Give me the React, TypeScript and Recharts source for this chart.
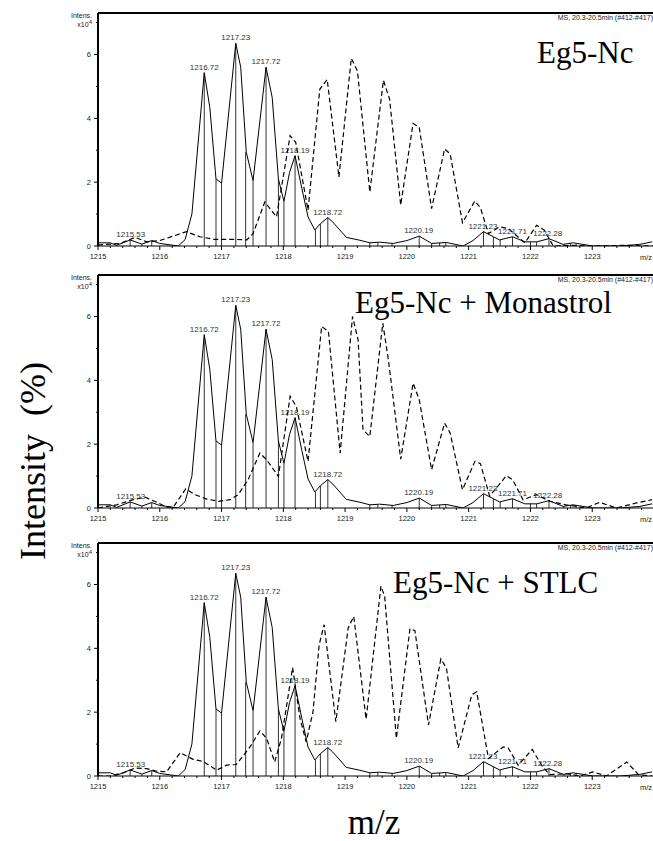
import { ComposedChart, ErrorBar, Line, ReferenceLine, Scatter, XAxis, YAxis } from 'recharts'

// the plot frame runs to the window's right edge; drop the body margin and keep scrollbars away
document.documentElement.style.overflow = 'hidden'
document.body.style.margin = '0'

// m/z, intensity (x10^4)
const solidTrace: [number, number][] = [
  [1215.0, 0.1], [1215.2, 0.1], [1215.3, 0.02], [1215.52, 0.19], [1215.71, 0.06],
  [1215.87, 0.17], [1216.0, 0.08], [1216.3, 0.0], [1216.41, 0.2], [1216.52, 1.0],
  [1216.72, 5.43], [1216.81, 4.34], [1216.91, 2.1], [1217.0, 1.97], [1217.23, 6.35],
  [1217.31, 5.6], [1217.4, 2.94], [1217.51, 2.05], [1217.72, 5.6], [1217.82, 4.65],
  [1217.92, 2.1], [1218.01, 1.4], [1218.1, 2.3], [1218.19, 2.83], [1218.3, 1.8],
  [1218.4, 0.91], [1218.51, 0.5], [1218.6, 0.7], [1218.72, 0.89], [1218.8, 0.75],
  [1219.02, 0.27], [1219.24, 0.18], [1219.4, 0.1], [1219.56, 0.12], [1219.78, 0.08],
  [1220.0, 0.17], [1220.2, 0.31], [1220.4, 0.08], [1220.64, 0.11], [1220.91, 0.0],
  [1221.07, 0.17], [1221.24, 0.45], [1221.4, 0.29], [1221.5, 0.19], [1221.71, 0.29],
  [1221.91, 0.13], [1222.1, 0.13], [1222.3, 0.23], [1222.53, 0.05], [1222.69, 0.1],
  [1223.01, 0.0], [1223.45, 0.0], [1223.77, 0.05], [1223.97, 0.13],
]

const dashedEg5: [number, number][] = [
  [1215.0, 0.03], [1215.36, 0.08], [1215.6, 0.27], [1215.79, 0.13], [1216.0, 0.17],
  [1216.2, 0.3], [1216.43, 0.45], [1216.65, 0.29], [1216.87, 0.21], [1217.19, 0.21],
  [1217.41, 0.19], [1217.51, 0.39], [1217.7, 1.38], [1217.89, 0.91], [1218.11, 3.46],
  [1218.2, 3.25], [1218.4, 1.12], [1218.59, 4.91], [1218.71, 5.22], [1218.9, 2.16],
  [1219.1, 5.88], [1219.2, 5.48], [1219.4, 1.69], [1219.62, 5.19], [1219.72, 4.6],
  [1219.9, 1.28], [1220.1, 3.84], [1220.2, 3.72], [1220.4, 1.17], [1220.61, 3.04],
  [1220.7, 2.89], [1220.9, 0.73], [1221.1, 1.41], [1221.19, 1.2], [1221.32, 0.39],
  [1221.5, 0.6], [1221.64, 0.55], [1221.91, 0.1], [1222.1, 0.65], [1222.22, 0.5],
  [1222.37, 0.0], [1222.69, 0.02], [1223.0, 0.0], [1223.5, 0.02], [1224.0, 0.0],
]

const dashedMonastrol: [number, number][] = [
  [1215.0, 0.0], [1215.3, 0.1], [1215.57, 0.26], [1215.76, 0.34], [1215.95, 0.18],
  [1216.11, 0.03], [1216.22, 0.03], [1216.42, 0.6], [1216.57, 0.42], [1216.76, 0.28],
  [1216.95, 0.21], [1217.14, 0.26], [1217.27, 0.42], [1217.43, 0.89], [1217.62, 1.72],
  [1217.73, 1.51], [1217.92, 0.99], [1218.11, 3.5], [1218.21, 3.18], [1218.4, 1.46],
  [1218.62, 5.69], [1218.73, 5.53], [1218.92, 1.72], [1219.12, 6.0], [1219.21, 5.27],
  [1219.29, 2.45], [1219.4, 2.24], [1219.61, 5.79], [1219.7, 4.65], [1219.9, 1.53],
  [1220.1, 3.91], [1220.2, 3.39], [1220.4, 1.2], [1220.61, 2.66], [1220.7, 2.35],
  [1220.9, 0.57], [1221.1, 1.46], [1221.19, 1.39], [1221.34, 0.37], [1221.61, 1.01],
  [1221.71, 0.89], [1221.88, 0.26], [1222.1, 0.42], [1222.31, 0.21], [1222.58, 0.1],
  [1222.9, 0.0], [1223.12, 0.18], [1223.39, 0.0], [1223.72, 0.16], [1223.97, 0.26],
]

const dashedStlc: [number, number][] = [
  [1215.0, 0.0], [1215.2, 0.0], [1215.41, 0.1], [1215.6, 0.25], [1215.79, 0.23],
  [1215.95, 0.15], [1216.11, 0.13], [1216.33, 0.73], [1216.54, 0.52], [1216.7, 0.46],
  [1216.92, 0.18], [1217.08, 0.34], [1217.24, 0.36], [1217.46, 0.91], [1217.62, 1.41],
  [1217.73, 1.18], [1217.86, 0.44], [1217.97, 1.18], [1218.15, 3.4], [1218.27, 1.8],
  [1218.37, 1.07], [1218.48, 2.01], [1218.58, 4.11], [1218.66, 4.74], [1218.85, 1.7],
  [1219.05, 4.64], [1219.14, 5.0], [1219.34, 1.78], [1219.58, 5.95], [1219.64, 5.63],
  [1219.83, 1.18], [1220.05, 4.62], [1220.13, 4.55], [1220.35, 1.6], [1220.55, 3.67],
  [1220.64, 3.38], [1220.83, 0.88], [1221.05, 2.54], [1221.13, 2.64], [1221.32, 0.55],
  [1221.56, 0.91], [1221.64, 0.88], [1221.8, 0.34], [1222.03, 0.83], [1222.18, 0.34],
  [1222.31, 0.04], [1222.58, 0.07], [1222.8, 0.0], [1223.01, 0.13], [1223.23, 0.0],
  [1223.56, 0.44], [1223.75, 0.04], [1223.97, 0.0],
]

// centroid sticks under the solid profile
const sticks: [number, number][] = [
  [1215.52, 0.19], [1215.71, 0.06], [1215.87, 0.17], [1216.72, 5.43], [1216.91, 2.1],
  [1217.0, 1.97], [1217.23, 6.35], [1217.39, 2.94], [1217.51, 2.05], [1217.72, 5.6],
  [1217.92, 2.1], [1218.01, 1.4], [1218.19, 2.83], [1218.52, 0.5], [1218.6, 0.7],
  [1218.72, 0.89], [1219.4, 0.1], [1219.53, 0.11], [1219.76, 0.08], [1220.2, 0.31],
  [1220.4, 0.08], [1220.53, 0.1], [1220.63, 0.11], [1221.24, 0.45], [1221.4, 0.29],
  [1221.51, 0.19], [1221.71, 0.29], [1222.0, 0.13], [1222.1, 0.13], [1222.3, 0.23],
  [1222.54, 0.05], [1222.65, 0.09], [1222.74, 0.08],
]

const peakLabels: [number, number, string][] = [
  [1215.53, 0.19, '1215.53'], [1216.72, 5.43, '1216.72'], [1217.23, 6.35, '1217.23'],
  [1217.72, 5.6, '1217.72'], [1218.19, 2.83, '1218.19'], [1218.72, 0.89, '1218.72'],
  [1220.19, 0.31, '1220.19'], [1221.23, 0.45, '1221.23'], [1221.71, 0.29, '1221.71'],
  [1222.28, 0.23, '1222.28'],
]

const xTickLabels = [1215, 1216, 1217, 1218, 1219, 1220, 1221, 1222, 1223]
const yTickLabels = [0, 2, 4, 6]
const panelTitles = ['Eg5-Nc', 'Eg5-Nc + Monastrol', 'Eg5-Nc + STLC']
const msInfo = 'MS, 20.3-20.5min (#412-#417)'

const Y_MAX = 7.3
const xTicks: number[] = []
for (let i = 0; i <= 45; i++) xTicks.push(Math.round((1215 + i * 0.2) * 10) / 10)
const yTicks = [0, 1, 2, 3, 4, 5, 6, 7]

const toPts = (rows: [number, number][]) => rows.map(([mz, v]) => ({ mz, v }))
const stickPts = sticks.map(([mz, v]) => ({ mz, v, err: [v, 0] }))
const labelPts = peakLabels.map(([mz, v, label]) => ({ mz, v, label }))

const SANS = '"Liberation Sans", Arial, sans-serif'
const SERIF = '"Liberation Serif", "Times New Roman", serif'

const panels = [
  { dashed: dashedEg5, top: 0, titleX: 529, titleY: 55 },
  { dashed: dashedMonastrol, top: 262, titleX: 347, titleY: 305 },
  { dashed: dashedStlc, top: 530, titleX: 385, titleY: 585 },
]

function XTick({ x, y, payload }: any) {
  const v = Math.round(payload.value * 10) / 10
  const major = xTickLabels.includes(v)
  return (
    <g>
      <line x1={x} x2={x} y1={y} y2={y + (major ? 4 : 2)} stroke="#000" strokeWidth={1} />
      {major && (
        <text x={x} y={y + 13} textAnchor="middle" fontSize={7.5} fontFamily={SANS} fill="#222">
          {v}
        </text>
      )}
    </g>
  )
}

function YTick({ x, y, payload }: any) {
  const major = yTickLabels.includes(payload.value)
  return (
    <g>
      <line x1={x - (major ? 4 : 2)} x2={x} y1={y} y2={y} stroke="#000" strokeWidth={1} />
      {major && (
        <text x={x - 7} y={y + 2.5} textAnchor="end" fontSize={7.5} fontFamily={SANS} fill="#222">
          {payload.value}
        </text>
      )}
    </g>
  )
}

function Panel({ dashed }: { dashed: [number, number][] }) {
  return (
    <ComposedChart width={650} height={258} margin={{ top: 5, right: 4, bottom: 0, left: 60 }}>
      <XAxis
        dataKey="mz"
        type="number"
        domain={[1215, 1224]}
        ticks={xTicks}
        interval={0}
        tick={<XTick />}
        tickLine={false}
        tickSize={0}
        tickMargin={0}
        height={20}
        allowDataOverflow
        stroke="#000"
        axisLine={{ stroke: '#000', strokeWidth: 1 }}
      />
      <YAxis
        type="number"
        domain={[0, Y_MAX]}
        ticks={yTicks}
        interval={0}
        width={30}
        tick={<YTick />}
        tickLine={false}
        tickSize={0}
        tickMargin={0}
        allowDataOverflow
        stroke="#000"
        axisLine={{ stroke: '#000', strokeWidth: 2 }}
      />
      <ReferenceLine y={Y_MAX} stroke="#000" strokeWidth={2} />
      <Scatter data={stickPts} dataKey="v" shape={() => <g />} isAnimationActive={false}>
        <ErrorBar dataKey="err" direction="y" width={0} stroke="#333" strokeWidth={1} isAnimationActive={false} />
      </Scatter>
      <Line
        data={toPts(dashed)}
        dataKey="v"
        type="linear"
        stroke="#000"
        strokeWidth={1.2}
        strokeDasharray="5 3"
        dot={false}
        isAnimationActive={false}
      />
      <Line
        data={toPts(solidTrace)}
        dataKey="v"
        type="linear"
        stroke="#000"
        strokeWidth={1}
        dot={false}
        isAnimationActive={false}
      />
      <Scatter
        data={labelPts}
        dataKey="v"
        isAnimationActive={false}
        shape={(p: any) => (
          <text x={p.cx} y={p.cy - 3} textAnchor="middle" fontSize={8} fontFamily={SANS} fill="#333">
            {p.payload.label}
          </text>
        )}
      />
    </ComposedChart>
  )
}

export default function App() {
  return (
    <div style={{ width: 653, height: 841, overflow: 'hidden' }}>
      <div style={{ position: 'relative', left: 8, top: 8, width: 645, height: 833 }}>
        {panels.map((p, i) => (
          <div key={i} style={{ position: 'absolute', left: 0, top: p.top }}>
            <Panel dashed={p.dashed} />
          </div>
        ))}
        <svg
          width={645}
          height={833}
          style={{ position: 'absolute', left: 0, top: 0, pointerEvents: 'none' }}
        >
          {panels.map((p, i) => (
            <g key={i}>
              <text x={84} y={10 + p.top} textAnchor="end" fontSize={7} fontFamily={SANS} fill="#222">
                Intens.
              </text>
              <text x={84} y={19 + p.top} textAnchor="end" fontSize={7} fontFamily={SANS} fill="#222">
                x10<tspan dy={-3} fontSize={6}>4</tspan>
              </text>
              <text x={645} y={12 + p.top} textAnchor="end" fontSize={7} fontFamily={SANS} fill="#222">
                {msInfo}
              </text>
              <text x={644} y={252 + p.top} textAnchor="end" fontSize={7.5} fontFamily={SANS} fill="#222">
                m/z
              </text>
              <text x={p.titleX} y={p.titleY} fontSize={31} fontFamily={SERIF} fill="#000">
                {panelTitles[i]}
              </text>
            </g>
          ))}
          <text
            x={37}
            y={453}
            transform="rotate(-90 37 453)"
            textAnchor="middle"
            fontSize={36}
            fontFamily={SERIF}
            fill="#000"
            style={{ whiteSpace: 'pre' }}
          >
            {'Intensity  (%)'}
          </text>
          <text x={366} y={826} textAnchor="middle" fontSize={35} fontFamily={SERIF} fill="#000">
            m/z
          </text>
        </svg>
      </div>
    </div>
  )
}
